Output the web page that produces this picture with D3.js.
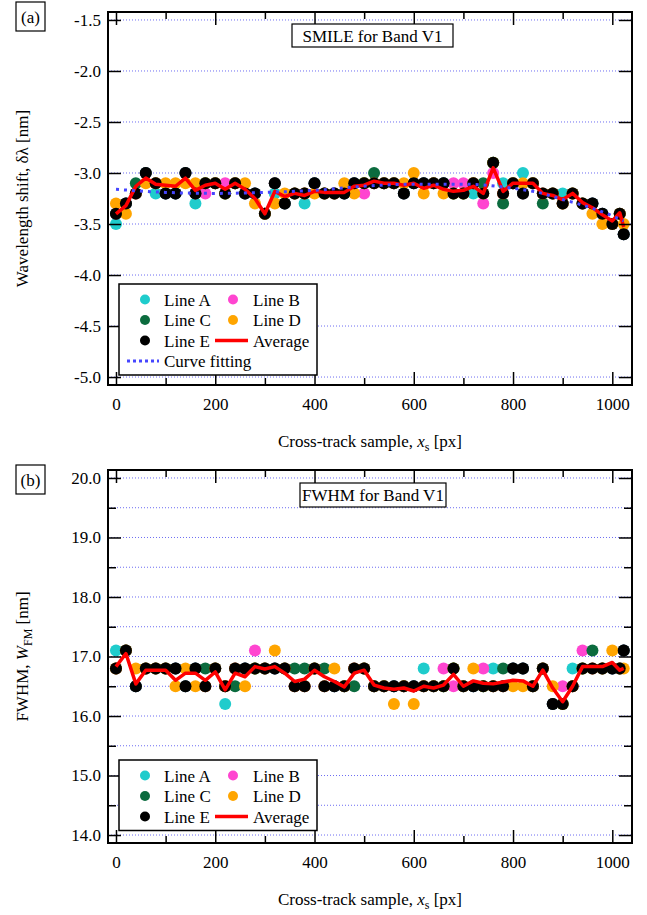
<!DOCTYPE html>
<html>
<head>
<meta charset="utf-8">
<script src="https://cdn.jsdelivr.net/npm/d3@7"></script>
<style>
  body { margin: 0; background: #fff; }
  svg { display: block; font-family: "Liberation Serif", "Times New Roman", serif; }
</style>
</head>
<body>
<div id="root"></div>
<script>
// cross-track sample positions (px)
const sampleX = [
  0, 20, 40, 60, 80, 100, 120, 140, 160, 180,
  200, 220, 240, 260, 280, 300, 320, 340, 360, 380,
  400, 420, 440, 460, 480, 500, 520, 540, 560, 580,
  600, 620, 640, 660, 680, 700, 720, 740, 760, 780,
  800, 820, 840, 860, 880, 900, 920, 940, 960, 980,
  1000, 1015, 1023
];

// (a) smile, wavelength shift [nm]
const smileA = [
  -3.5, -3.3, -3.2, -3.0, -3.2, -3.2, -3.2, -3.0, -3.3, -3.1,
  -3.1, -3.2, -3.1, -3.2, -3.2, -3.4, -3.2, -3.3, -3.2, -3.3,
  -3.1, -3.2, -3.2, -3.2, -3.1, -3.1, -3.1, -3.1, -3.1, -3.2,
  -3.1, -3.1, -3.1, -3.1, -3.2, -3.2, -3.2, -3.2, -2.9, -3.1,
  -3.1, -3.0, -3.1, -3.2, -3.2, -3.2, -3.2, -3.3, -3.3, -3.4,
  -3.5, -3.4, -3.6
];
const smileB = [
  -3.4, -3.3, -3.2, -3.0, -3.1, -3.2, -3.2, -3.0, -3.2, -3.2,
  -3.1, -3.1, -3.1, -3.2, -3.2, -3.4, -3.1, -3.3, -3.2, -3.2,
  -3.1, -3.2, -3.2, -3.2, -3.1, -3.2, -3.1, -3.1, -3.1, -3.2,
  -3.1, -3.1, -3.1, -3.1, -3.1, -3.1, -3.1, -3.3, -3.0, -3.2,
  -3.1, -3.2, -3.1, -3.2, -3.2, -3.3, -3.2, -3.3, -3.3, -3.4,
  -3.5, -3.4, -3.6
];
const smileC = [
  -3.4, -3.3, -3.1, -3.0, -3.1, -3.2, -3.2, -3.0, -3.2, -3.1,
  -3.1, -3.2, -3.1, -3.2, -3.2, -3.4, -3.1, -3.3, -3.2, -3.2,
  -3.1, -3.2, -3.2, -3.2, -3.1, -3.1, -3.0, -3.1, -3.1, -3.2,
  -3.1, -3.1, -3.1, -3.1, -3.2, -3.2, -3.1, -3.1, -2.9, -3.3,
  -3.1, -3.2, -3.1, -3.3, -3.2, -3.3, -3.2, -3.3, -3.3, -3.4,
  -3.5, -3.4, -3.6
];
const smileD = [
  -3.3, -3.4, -3.2, -3.1, -3.1, -3.1, -3.1, -3.1, -3.1, -3.1,
  -3.1, -3.2, -3.1, -3.1, -3.3, -3.4, -3.3, -3.2, -3.2, -3.2,
  -3.2, -3.2, -3.2, -3.1, -3.2, -3.1, -3.1, -3.1, -3.1, -3.1,
  -3.0, -3.2, -3.1, -3.2, -3.2, -3.2, -3.1, -3.2, -2.9, -3.2,
  -3.1, -3.1, -3.1, -3.2, -3.2, -3.3, -3.2, -3.3, -3.4, -3.5,
  -3.5, -3.4, -3.5
];
const smileE = [
  -3.4, -3.3, -3.2, -3.0, -3.1, -3.2, -3.2, -3.0, -3.2, -3.1,
  -3.1, -3.2, -3.1, -3.2, -3.2, -3.4, -3.1, -3.3, -3.2, -3.2,
  -3.1, -3.2, -3.2, -3.2, -3.1, -3.1, -3.1, -3.1, -3.1, -3.2,
  -3.1, -3.1, -3.1, -3.1, -3.2, -3.2, -3.1, -3.2, -2.9, -3.2,
  -3.1, -3.2, -3.1, -3.2, -3.2, -3.3, -3.2, -3.3, -3.3, -3.4,
  -3.5, -3.4, -3.6
];
const smileAvg = [
  -3.40, -3.32, -3.13, -3.05, -3.11, -3.12, -3.13, -3.05, -3.17, -3.12,
  -3.10, -3.16, -3.10, -3.16, -3.25, -3.40, -3.18, -3.23, -3.20, -3.22,
  -3.18, -3.19, -3.19, -3.19, -3.13, -3.12, -3.08, -3.10, -3.10, -3.12,
  -3.10, -3.15, -3.12, -3.16, -3.18, -3.17, -3.13, -3.20, -2.95, -3.18,
  -3.10, -3.10, -3.10, -3.20, -3.22, -3.26, -3.20, -3.29, -3.34, -3.41,
  -3.47, -3.39, -3.53
];
// curve fitting, read at coarser steps
const fitX = [0, 100, 200, 300, 400, 500, 600, 700, 800, 850, 900, 950, 1000, 1023];
const fitY = [-3.16, -3.19, -3.20, -3.19, -3.17, -3.13, -3.11, -3.11, -3.15, -3.19, -3.26, -3.33, -3.42, -3.47];

// (b) FWHM [nm]
const fwhmA = [
  17.1, 17.1, 16.5, 16.8, 16.8, 16.8, 16.8, 16.5, 16.8, 16.5,
  16.8, 16.2, 16.8, 16.8, 16.8, 16.8, 16.8, 16.8, 16.5, 16.5,
  16.8, 16.5, 16.5, 16.5, 16.8, 16.8, 16.5, 16.5, 16.5, 16.5,
  16.5, 16.8, 16.5, 16.5, 16.8, 16.5, 16.5, 16.5, 16.8, 16.5,
  16.8, 16.8, 16.5, 16.8, 16.2, 16.2, 16.8, 16.8, 16.8, 16.8,
  16.8, 16.8, 17.1
];
const fwhmB = [
  16.8, 17.1, 16.5, 16.8, 16.8, 16.8, 16.8, 16.5, 16.8, 16.5,
  16.8, 16.5, 16.8, 16.8, 17.1, 16.8, 16.8, 16.8, 16.5, 16.5,
  16.8, 16.5, 16.5, 16.5, 16.8, 16.8, 16.5, 16.5, 16.5, 16.5,
  16.5, 16.5, 16.5, 16.8, 16.5, 16.5, 16.5, 16.8, 16.5, 16.5,
  16.8, 16.8, 16.5, 16.8, 16.2, 16.5, 16.5, 17.1, 16.8, 16.8,
  16.8, 16.8, 17.1
];
const fwhmC = [
  16.8, 17.1, 16.5, 16.8, 16.8, 16.8, 16.8, 16.5, 16.8, 16.8,
  16.8, 16.5, 16.5, 16.8, 16.8, 16.8, 16.8, 16.8, 16.8, 16.8,
  16.8, 16.8, 16.5, 16.5, 16.5, 16.8, 16.5, 16.5, 16.5, 16.5,
  16.5, 16.5, 16.5, 16.5, 16.8, 16.5, 16.5, 16.5, 16.5, 16.8,
  16.8, 16.8, 16.5, 16.8, 16.2, 16.2, 16.5, 16.8, 17.1, 16.8,
  16.8, 16.8, 17.1
];
const fwhmD = [
  16.8, 17.1, 16.8, 16.8, 16.8, 16.8, 16.5, 16.8, 16.5, 16.5,
  16.8, 16.5, 16.8, 16.5, 16.8, 16.8, 17.1, 16.8, 16.5, 16.5,
  16.8, 16.5, 16.8, 16.5, 16.8, 16.8, 16.5, 16.5, 16.2, 16.5,
  16.2, 16.5, 16.5, 16.5, 16.8, 16.5, 16.8, 16.5, 16.5, 16.5,
  16.5, 16.5, 16.5, 16.8, 16.5, 16.2, 16.5, 16.8, 16.8, 16.8,
  17.1, 16.8, 16.8
];
const fwhmE = [
  16.8, 17.1, 16.5, 16.8, 16.8, 16.8, 16.8, 16.5, 16.8, 16.5,
  16.8, 16.5, 16.8, 16.8, 16.8, 16.8, 16.8, 16.8, 16.5, 16.5,
  16.8, 16.5, 16.5, 16.5, 16.8, 16.8, 16.5, 16.5, 16.5, 16.5,
  16.5, 16.5, 16.5, 16.5, 16.8, 16.5, 16.5, 16.5, 16.5, 16.5,
  16.8, 16.8, 16.5, 16.8, 16.2, 16.2, 16.5, 16.8, 16.8, 16.8,
  16.8, 16.8, 17.1
];
const fwhmAvg = [
  16.83, 17.05, 16.54, 16.77, 16.77, 16.77, 16.60, 16.72, 16.72, 16.60,
  16.74, 16.44, 16.72, 16.66, 16.83, 16.79, 16.83, 16.72, 16.58, 16.62,
  16.77, 16.66, 16.58, 16.49, 16.72, 16.77, 16.52, 16.47, 16.45, 16.47,
  16.42, 16.50, 16.47, 16.52, 16.70, 16.50, 16.59, 16.55, 16.54, 16.57,
  16.60, 16.59, 16.50, 16.77, 16.47, 16.24, 16.50, 16.83, 16.83, 16.83,
  16.90, 16.77, 16.80
];

// axis ticks
const xMajor = [0, 200, 400, 600, 800, 1000];
const xMinor = [100, 300, 500, 700, 900];
const smileTicks = [-5.0, -4.5, -4.0, -3.5, -3.0, -2.5, -2.0, -1.5];
const fwhmMajor = [14, 15, 16, 17, 18, 19, 20];
const fwhmMinor = [14.5, 15.5, 16.5, 17.5, 18.5, 19.5];

const colors = { A: "#1fcccc", B: "#ff45d0", C: "#0b6b3e", D: "#ffa500", E: "#000000" };
const FONT = '"Liberation Serif", "Times New Roman", serif';

const left = 108, right = 632;
const x = d3.scaleLinear().domain([-16.1, 1039.7]).range([left, right]);

const svg = d3.select("#root")
  .append("svg")
  .attr("width", 647)
  .attr("height", 915);

function styleAxis(g) {
  g.select(".domain").remove();
  g.attr("font-family", FONT).attr("font-size", 17);
  g.selectAll(".tick line").attr("stroke-width", 1.5);
}

function drawPanel(p) {
  const y = d3.scaleLinear().domain(p.yDomain).range([p.bottom, p.top]);
  const g = svg.append("g");
  const gridTicks = p.yMajor.concat(p.yMinor || []);

  // dotted grid
  g.append("g")
    .selectAll("line")
    .data(gridTicks)
    .join("line")
    .attr("x1", left).attr("x2", right)
    .attr("y1", d => y(d)).attr("y2", d => y(d))
    .attr("stroke", "#6c6cf2")
    .attr("stroke-width", 1)
    .attr("stroke-dasharray", "1,2");

  // markers, line E on top
  p.series.forEach(s => {
    g.append("g")
      .selectAll("circle")
      .data(s.values)
      .join("circle")
      .attr("cx", (d, i) => x(sampleX[i]))
      .attr("cy", d => y(d))
      .attr("r", 6)
      .attr("fill", colors[s.key]);
  });

  const line = d3.line().x((d, i) => x(sampleX[i])).y(d => y(d));
  g.append("path")
    .attr("d", line(p.avg))
    .attr("fill", "none")
    .attr("stroke", "#ff0000")
    .attr("stroke-width", 3.5)
    .attr("stroke-linejoin", "round");

  if (p.fit) {
    const fitLine = d3.line()
      .x((d, i) => x(fitX[i]))
      .y(d => y(d))
      .curve(d3.curveMonotoneX);
    g.append("path")
      .attr("d", fitLine(p.fit))
      .attr("fill", "none")
      .attr("stroke", "#4646ff")
      .attr("stroke-width", 3)
      .attr("stroke-dasharray", "3,5");
  }

  // frame
  g.append("rect")
    .attr("x", left).attr("y", p.top)
    .attr("width", right - left).attr("height", p.bottom - p.top)
    .attr("fill", "none")
    .attr("stroke", "#000")
    .attr("stroke-width", 2);

  // ticks, all pointing inward
  g.append("g")
    .attr("transform", `translate(0,${p.bottom})`)
    .call(d3.axisBottom(x).tickValues(xMajor).tickSize(-13).tickPadding(13).tickFormat(d3.format("d")))
    .call(styleAxis);
  g.append("g")
    .attr("transform", `translate(0,${p.bottom})`)
    .call(d3.axisBottom(x).tickValues(xMinor).tickSize(-7).tickFormat(""))
    .call(styleAxis);
  g.append("g")
    .attr("transform", `translate(0,${p.top})`)
    .call(d3.axisTop(x).tickValues(xMajor).tickSize(-13).tickFormat(""))
    .call(styleAxis);
  g.append("g")
    .attr("transform", `translate(0,${p.top})`)
    .call(d3.axisTop(x).tickValues(xMinor).tickSize(-7).tickFormat(""))
    .call(styleAxis);

  g.append("g")
    .attr("transform", `translate(${left},0)`)
    .call(d3.axisLeft(y).tickValues(p.yMajor).tickSize(-13).tickPadding(7).tickFormat(d => d.toFixed(1)))
    .call(styleAxis);
  g.append("g")
    .attr("transform", `translate(${right},0)`)
    .call(d3.axisRight(y).tickValues(p.yMajor).tickSize(-13).tickFormat(""))
    .call(styleAxis);
  if (p.yMinor) {
    g.append("g")
      .attr("transform", `translate(${left},0)`)
      .call(d3.axisLeft(y).tickValues(p.yMinor).tickSize(-8).tickFormat(""))
      .call(styleAxis);
    g.append("g")
      .attr("transform", `translate(${right},0)`)
      .call(d3.axisRight(y).tickValues(p.yMinor).tickSize(-8).tickFormat(""))
      .call(styleAxis);
  }

  // axis titles
  const xt = g.append("text")
    .attr("x", 370).attr("y", p.bottom + 62)
    .attr("text-anchor", "middle")
    .attr("font-size", 17);
  xt.append("tspan").text("Cross-track sample, ");
  xt.append("tspan").attr("font-style", "italic").text("x");
  xt.append("tspan").attr("font-size", 12).attr("dy", 4).text("s");
  xt.append("tspan").attr("dy", -4).text(" [px]");

  const yt = g.append("text")
    .attr("transform", `translate(28,${(p.top + p.bottom) / 2}) rotate(-90)`)
    .attr("text-anchor", "middle")
    .attr("font-size", 17);
  p.yTitle(yt);

  // panel tag
  g.append("rect")
    .attr("x", 16).attr("y", p.tagTop)
    .attr("width", 29).attr("height", 29)
    .attr("fill", "#fff").attr("stroke", "#000").attr("stroke-width", 1.2);
  g.append("text")
    .attr("x", 30.5).attr("y", p.tagTop + 21)
    .attr("text-anchor", "middle")
    .attr("font-size", 17)
    .text(p.tag);

  // title box
  g.append("rect")
    .attr("x", p.titleBox[0]).attr("y", p.titleBox[1])
    .attr("width", p.titleBox[2]).attr("height", p.titleBox[3])
    .attr("fill", "#fff").attr("stroke", "#000").attr("stroke-width", 1.2);
  g.append("text")
    .attr("x", p.titleBox[0] + p.titleBox[2] / 2)
    .attr("y", p.titleBox[1] + p.titleBox[3] / 2 + 6)
    .attr("text-anchor", "middle")
    .attr("font-size", 17)
    .text(p.title);

  // legend
  const lg = g.append("g").attr("transform", `translate(119,${p.legendTop})`);
  const rows = Math.max(...p.legend.map(d => d.row)) + 1;
  lg.append("rect")
    .attr("width", 198).attr("height", rows * 20.5 + 9)
    .attr("fill", "#fff").attr("stroke", "#000").attr("stroke-width", 1.5);
  p.legend.forEach(it => {
    const cy = 15.5 + it.row * 20.5;
    const tx = it.col === 0 ? 45 : 134;
    if (it.type === "dot") {
      lg.append("circle")
        .attr("cx", it.col === 0 ? 26 : 114).attr("cy", cy).attr("r", 5)
        .attr("fill", colors[it.key]);
    } else if (it.type === "avg") {
      lg.append("line")
        .attr("x1", 96).attr("x2", 129).attr("y1", cy).attr("y2", cy)
        .attr("stroke", "#ff0000").attr("stroke-width", 3.5);
    } else {
      lg.append("line")
        .attr("x1", 8).attr("x2", 40).attr("y1", cy).attr("y2", cy)
        .attr("stroke", "#4646ff").attr("stroke-width", 3)
        .attr("stroke-dasharray", "3,3");
    }
    lg.append("text")
      .attr("x", it.type === "fit" ? 45 : tx).attr("y", cy + 6)
      .attr("font-size", 17)
      .text(it.label);
  });
}

const legendSmile = [
  { label: "Line A", key: "A", type: "dot", col: 0, row: 0 },
  { label: "Line B", key: "B", type: "dot", col: 1, row: 0 },
  { label: "Line C", key: "C", type: "dot", col: 0, row: 1 },
  { label: "Line D", key: "D", type: "dot", col: 1, row: 1 },
  { label: "Line E", key: "E", type: "dot", col: 0, row: 2 },
  { label: "Average", type: "avg", col: 1, row: 2 },
  { label: "Curve fitting", type: "fit", col: 0, row: 3 }
];

drawPanel({
  top: 12, bottom: 385,
  yDomain: [-5.078, -1.422],
  yMajor: smileTicks,
  series: [
    { key: "A", values: smileA }, { key: "B", values: smileB },
    { key: "C", values: smileC }, { key: "D", values: smileD },
    { key: "E", values: smileE }
  ],
  avg: smileAvg,
  fit: fitY,
  tag: "(a)", tagTop: 2,
  title: "SMILE for Band V1", titleBox: [292, 24, 161, 23],
  legendTop: 284,
  legend: legendSmile,
  yTitle: t => t.text("Wavelength shift, δλ [nm]")
});

drawPanel({
  top: 470, bottom: 843,
  yDomain: [13.866, 20.134],
  yMajor: fwhmMajor,
  yMinor: fwhmMinor,
  series: [
    { key: "A", values: fwhmA }, { key: "B", values: fwhmB },
    { key: "C", values: fwhmC }, { key: "D", values: fwhmD },
    { key: "E", values: fwhmE }
  ],
  avg: fwhmAvg,
  tag: "(b)", tagTop: 465,
  title: "FWHM for Band V1", titleBox: [300, 483, 146, 24],
  legendTop: 760,
  legend: legendSmile.slice(0, 6),
  yTitle: t => {
    t.append("tspan").text("FWHM, ");
    t.append("tspan").attr("font-style", "italic").text("W");
    t.append("tspan").attr("font-size", 12).attr("dy", 4).text("FM");
    t.append("tspan").attr("dy", -4).text(" [nm]");
  }
});
</script>
</body>
</html>
